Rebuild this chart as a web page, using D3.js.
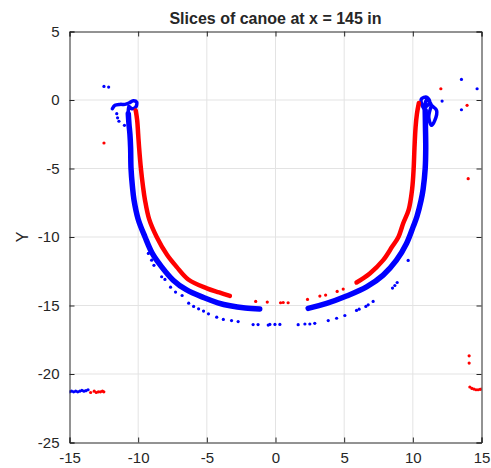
<!DOCTYPE html>
<html>
<head>
<meta charset="utf-8">
<script src="https://cdn.jsdelivr.net/npm/d3@7"></script>
<style>
  body { margin: 0; background: #fff; }
  text { font-family: "Liberation Sans", Arial, sans-serif; fill: #262626; }
</style>
</head>
<body>
<div class="chart"></div>
<script>
var svgWidth = 491;
var svgHeight = 468;

var margin = { top: 31.5, right: 9.5, bottom: 25.5, left: 69.5 };
var width = svgWidth - margin.left - margin.right;
var height = svgHeight - margin.top - margin.bottom;

// tick values
var xTicks = [-15, -10, -5, 0, 5, 10, 15];
var yTicks = [-25, -20, -15, -10, -5, 0, 5];

// dense bands, [x, y]
var blueLeftBand = [[-10.72,-1.0],[-10.67,-1.75],[-10.6,-2.5],[-10.55,-3.5],[-10.52,-5.0],[-10.42,-6.3],[-10.3,-7.32],
  [-10.0,-8.7],[-9.5,-10.0],[-8.97,-11.2],[-8.29,-12.18],[-7.45,-13.15],[-6.5,-13.85],[-5.24,-14.42],
  [-4.2,-14.8],[-3.3,-15.02],[-2.2,-15.18],[-1.15,-15.25]];
var blueRightBand = [[2.38,-15.21],[3.72,-14.85],[5.17,-14.31],[6.63,-13.64],[7.84,-12.78],[8.81,-11.69],
  [9.54,-10.47],[10.02,-9.26],[10.3,-8.5],[10.6,-7.33],[10.75,-6.5],[10.9,-5.0],[10.94,-3.5],[10.92,-2.0],[10.9,-0.76]];
var redLeftBand = [[-10.18,-0.76],[-10.07,-1.49],[-10.0,-2.5],[-9.93,-3.5],[-9.8,-5.0],[-9.65,-6.3],[-9.5,-7.32],
  [-9.2,-8.7],[-8.65,-10.0],[-7.9,-11.3],[-7.2,-12.18],[-6.35,-13.1],[-5.0,-13.75],[-4.1,-14.05],[-3.32,-14.3]];
var redRightBand = [[5.9,-13.32],[6.87,-12.66],[7.84,-11.69],[8.5,-10.7],[8.95,-10.0],[9.3,-9.0],[9.7,-8.0],
  [9.95,-6.5],[10.06,-5.0],[10.12,-3.5],[10.2,-2.0],[10.3,-1.0],[10.44,-0.22]];

// gunwale lips
var blueLeftLip = [[-10.72,-1.0],[-10.67,-0.47],[-10.47,-0.64],[-10.18,-0.52],[-10.11,-0.15],[-10.36,-0.05],
  [-10.67,-0.22],[-10.96,-0.32],[-11.32,-0.32],[-11.69,-0.39],[-11.88,-0.64]];
var blueRightLip = [[10.9,-0.76],[10.63,-0.27],[10.63,0.09],[11.0,0.21],[11.24,-0.15],[10.87,-0.52],[11.0,0.0],
  [11.24,-0.15],[11.36,-0.39],[11.73,-0.76],[11.6,-1.49],[11.36,-1.85],[11.16,-1.25],[11.36,-0.39]];

// scattered points
var blueDots = [[-11.56,-1.0],[-11.5,-1.3],[-11.4,-1.55],[-11.0,-1.85],
  [-12.49,0.99],[-12.15,0.94],[13.54,1.5],[14.68,0.82],[12.13,-0.08],[13.54,-0.71],
  [-9.26,-11.2],[-9.02,-11.69],[-8.85,-12.07],[-8.29,-12.9],[-8.05,-13.1],[-7.64,-13.66],[-7.28,-14.02],
  [-6.8,-14.27],[-6.32,-14.83],[-5.96,-15.07],[-5.6,-15.24],[-5.24,-15.41],[-4.88,-15.61],[-4.28,-15.85],
  [-3.8,-16.02],[-3.2,-16.1],[-2.72,-16.17],[-1.63,-16.39],[-1.27,-16.39],[-0.53,-16.43],[-0.41,-16.38],
  [-0.04,-16.38],[0.32,-16.38],[1.65,-16.4],[2.14,-16.35],[2.5,-16.35],[2.86,-16.3],[3.84,-16.1],[4.45,-15.93],
  [5.05,-15.73],[5.9,-15.36],[6.09,-15.27],[6.58,-15.07],[6.75,-14.95],[7.11,-14.7],[8.52,-13.73],[8.69,-13.54],
  [8.86,-13.32],[9.66,-11.71],
  [-15.0,-21.3],[-14.85,-21.25],[-14.7,-21.3],[-14.55,-21.25],[-14.4,-21.3],[-14.25,-21.25],[-14.1,-21.2],
  [-13.95,-21.25],[-13.8,-21.22],[-13.65,-21.15]];
var redDots = [[-12.49,-3.14],[12.04,0.82],[13.95,-0.39],[14.03,-5.74],[14.1,-18.67],[14.1,-19.2],
  [-1.44,-14.7],[-0.6,-14.75],[0.37,-14.8],[0.56,-14.78],[0.92,-14.8],[2.33,-14.56],[3.23,-14.31],[3.65,-14.24],
  [4.49,-13.97],[4.93,-13.8],
  [-13.46,-21.35],[-13.2,-21.25],[-13.05,-21.35],[-12.9,-21.3],[-12.75,-21.3],[-12.6,-21.25],[-12.5,-21.3],
  [14.15,-20.95],[14.3,-21.05],[14.45,-21.1],[14.6,-21.15],[14.75,-21.15],[14.9,-21.12],[15.0,-21.1]];

var svg = d3.select(".chart")
  .append("svg")
  .attr("width", svgWidth)
  .attr("height", svgHeight);

var chartGroup = svg.append("g")
  .attr("transform", `translate(${margin.left}, ${margin.top})`);

var xScale = d3.scaleLinear().domain([-15, 15]).range([0, width]);
var yScale = d3.scaleLinear().domain([-25, 5]).range([height, 0]);

// grid
chartGroup.append("g").selectAll("line").data(xTicks.slice(1, -1)).enter().append("line")
  .attr("x1", d => xScale(d)).attr("x2", d => xScale(d))
  .attr("y1", 0).attr("y2", height)
  .attr("stroke", "#e3e3e3").attr("stroke-width", 1);
chartGroup.append("g").selectAll("line").data(yTicks.slice(1, -1)).enter().append("line")
  .attr("y1", d => yScale(d)).attr("y2", d => yScale(d))
  .attr("x1", 0).attr("x2", width)
  .attr("stroke", "#e3e3e3").attr("stroke-width", 1);

svg.append("defs").append("clipPath").attr("id", "clip")
  .append("rect").attr("width", width).attr("height", height);

var plot = chartGroup.append("g").attr("clip-path", "url(#clip)");

var line = d3.line().x(d => xScale(d[0])).y(d => yScale(d[1])).curve(d3.curveCatmullRom);

function band(data, color, w) {
  plot.append("path")
    .datum(data)
    .attr("d", line)
    .attr("fill", "none")
    .attr("stroke", color)
    .attr("stroke-width", w)
    .attr("stroke-linejoin", "round")
    .attr("stroke-linecap", "round");
}

band(blueLeftBand, "#0000ff", 5.5);
band(blueRightBand, "#0000ff", 5.5);
band(blueLeftLip, "#0000ff", 3.5);
band(blueRightLip, "#0000ff", 3.5);
band(redLeftBand, "#ff0000", 4.5);
band(redRightBand, "#ff0000", 4.5);

plot.selectAll(".bdot").data(blueDots).enter().append("circle")
  .attr("class", "bdot")
  .attr("cx", d => xScale(d[0])).attr("cy", d => yScale(d[1]))
  .attr("r", 1.6).attr("fill", "#0000ff");
plot.selectAll(".rdot").data(redDots).enter().append("circle")
  .attr("class", "rdot")
  .attr("cx", d => xScale(d[0])).attr("cy", d => yScale(d[1]))
  .attr("r", 1.6).attr("fill", "#ff0000");

// axes, box with inward ticks
var fmt = d => String(d);
var bottomAxis = d3.axisBottom(xScale).tickValues(xTicks).tickSize(-5).tickPadding(10).tickFormat(fmt);
var leftAxis = d3.axisLeft(yScale).tickValues(yTicks).tickSize(-5).tickPadding(10).tickFormat(fmt);
var topAxis = d3.axisTop(xScale).tickValues(xTicks).tickSize(-5).tickFormat("");
var rightAxis = d3.axisRight(yScale).tickValues(yTicks).tickSize(-5).tickFormat("");

function styleAxis(g) {
  g.select(".domain").attr("stroke", "#262626");
  g.selectAll(".tick line").attr("stroke", "#262626");
  g.selectAll(".tick text").attr("fill", "#262626").style("font-size", "15px")
    .style("font-family", "'Liberation Sans', Arial, sans-serif");
}

chartGroup.append("g").attr("transform", `translate(0, ${height})`).call(bottomAxis).call(styleAxis);
chartGroup.append("g").call(leftAxis).call(styleAxis);
chartGroup.append("g").call(topAxis).call(styleAxis);
chartGroup.append("g").attr("transform", `translate(${width}, 0)`).call(rightAxis).call(styleAxis);

chartGroup.append("text")
  .attr("x", width / 2)
  .attr("y", -8)
  .attr("text-anchor", "middle")
  .style("font-size", "16px")
  .style("font-weight", "bold")
  .text("Slices of canoe at x = 145 in");

chartGroup.append("text")
  .attr("transform", "rotate(-90)")
  .attr("x", -height / 2)
  .attr("y", -42)
  .attr("text-anchor", "middle")
  .style("font-size", "16px")
  .text("Y");
</script>
</body>
</html>
